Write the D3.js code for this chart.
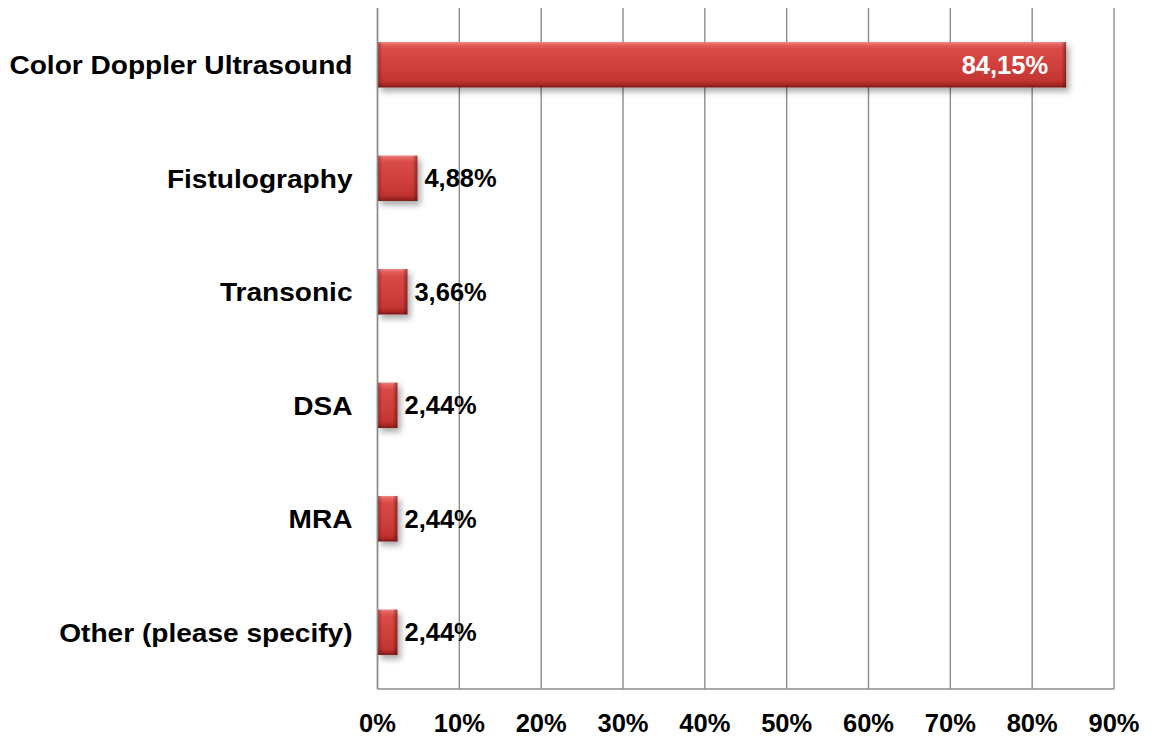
<!DOCTYPE html>
<html>
<head>
<meta charset="utf-8">
<script src="https://cdn.jsdelivr.net/npm/d3@7"></script>
<style>
  html, body { margin: 0; padding: 0; background: #fff; }
  svg { display: block; font-family: Arial, "Liberation Sans", sans-serif; }
</style>
</head>
<body>
<svg id="chart" width="1155" height="737"></svg>
<script>
// Imaging methods used for access assessment (share of responses)
const categories = [
  "Color Doppler Ultrasound",
  "Fistulography",
  "Transonic",
  "DSA",
  "MRA",
  "Other (please specify)"
];
const values = [84.15, 4.88, 3.66, 2.44, 2.44, 2.44];
const valueLabels = ["84,15%", "4,88%", "3,66%", "2,44%", "2,44%", "2,44%"];
const xTicks = [0, 10, 20, 30, 40, 50, 60, 70, 80, 90];

const data = categories.map((c, i) => ({ cat: c, value: values[i], label: valueLabels[i] }));

const svg = d3.select("#chart");
const margin = { top: 8, right: 41, bottom: 48, left: 377.5 };
const width = 1155 - margin.left - margin.right;
const height = 737 - margin.top - margin.bottom;

const x = d3.scaleLinear().domain([0, 90]).range([0, width]);
const y = d3.scaleBand().domain(categories).range([0, height])
  .paddingInner(0.6).paddingOuter(0.3);

// Definitions: bar shading and drop shadow
const defs = svg.append("defs");
const vg = defs.append("linearGradient").attr("id", "barV")
  .attr("x1", 0).attr("y1", 0).attr("x2", 0).attr("y2", 1);
[
  [0, "#ee8482"], [0.06, "#e4605d"], [0.16, "#d84a47"],
  [0.55, "#d03f3c"], [0.85, "#c33532"], [0.94, "#a82824"], [1, "#7a1715"]
].forEach(([o, c]) => vg.append("stop").attr("offset", o).attr("stop-color", c));

const lg = defs.append("linearGradient").attr("id", "edgeL")
  .attr("x1", 0).attr("y1", 0).attr("x2", 1).attr("y2", 0);
lg.append("stop").attr("offset", 0).attr("stop-color", "#5a0f0e").attr("stop-opacity", 0.45);
lg.append("stop").attr("offset", 1).attr("stop-color", "#5a0f0e").attr("stop-opacity", 0);
const rg = defs.append("linearGradient").attr("id", "edgeR")
  .attr("x1", 0).attr("y1", 0).attr("x2", 1).attr("y2", 0);
rg.append("stop").attr("offset", 0).attr("stop-color", "#5a0f0e").attr("stop-opacity", 0);
rg.append("stop").attr("offset", 1).attr("stop-color", "#5a0f0e").attr("stop-opacity", 0.55);

const shadow = defs.append("filter").attr("id", "shadow")
  .attr("x", "-20%").attr("y", "-20%").attr("width", "160%").attr("height", "160%");
shadow.append("feDropShadow").attr("dx", 3).attr("dy", 4)
  .attr("stdDeviation", 3).attr("flood-color", "#000").attr("flood-opacity", 0.35);

const g = svg.append("g").attr("transform", `translate(${margin.left},${margin.top})`);

// Vertical gridlines
g.append("g").selectAll("line").data(xTicks).join("line")
  .attr("x1", d => x(d)).attr("x2", d => x(d))
  .attr("y1", 0).attr("y2", height)
  .attr("stroke", "#8c8c8c").attr("stroke-width", 1.4);

// Bottom axis line
g.append("line").attr("x1", 0).attr("x2", width)
  .attr("y1", height).attr("y2", height)
  .attr("stroke", "#8c8c8c").attr("stroke-width", 1.4);

// Bars
const bars = g.append("g").selectAll("g").data(data).join("g")
  .attr("transform", d => `translate(0,${y(d.cat)})`);

bars.append("rect")
  .attr("x", 0).attr("y", 0)
  .attr("width", d => x(d.value)).attr("height", y.bandwidth())
  .attr("fill", "url(#barV)")
  .attr("filter", "url(#shadow)");

bars.append("rect")
  .attr("x", 0).attr("y", 0)
  .attr("width", d => Math.min(5, x(d.value) / 4)).attr("height", y.bandwidth())
  .attr("fill", "url(#edgeL)");

bars.append("rect")
  .attr("x", d => x(d.value) - Math.min(5, x(d.value) / 4)).attr("y", 0)
  .attr("width", d => Math.min(5, x(d.value) / 4)).attr("height", y.bandwidth())
  .attr("fill", "url(#edgeR)");

// Left axis line (drawn over the bars' left edge)
g.append("line").attr("x1", 0).attr("x2", 0)
  .attr("y1", 0).attr("y2", height)
  .attr("stroke", "#8c8c8c").attr("stroke-width", 1.4);

// Value labels
bars.append("text")
  .attr("x", d => d.value > 50 ? x(d.value) - 18 : x(d.value) + 7)
  .attr("y", y.bandwidth() / 2)
  .attr("dy", "0.36em")
  .attr("text-anchor", d => d.value > 50 ? "end" : "start")
  .attr("fill", d => d.value > 50 ? "#fff" : "#000")
  .attr("font-size", 25.5).attr("font-weight", "bold")
  .text(d => d.label);

// Category labels (slightly widened lettering)
g.append("g").selectAll("g").data(categories).join("g")
  .attr("transform", d => `translate(-25,${y(d) + y.bandwidth() / 2}) scale(1.08,1)`)
  .append("text")
  .attr("x", 0).attr("y", 0)
  .attr("dy", "0.36em")
  .attr("text-anchor", "end")
  .attr("font-size", 26).attr("font-weight", "bold")
  .attr("fill", "#000")
  .text(d => d);

// X tick labels
g.append("g").selectAll("text").data(xTicks).join("text")
  .attr("x", d => x(d))
  .attr("y", height + 43)
  .attr("text-anchor", "middle")
  .attr("font-size", 25.5).attr("font-weight", "bold")
  .attr("fill", "#000")
  .text(d => d + "%");
</script>
</body>
</html>
